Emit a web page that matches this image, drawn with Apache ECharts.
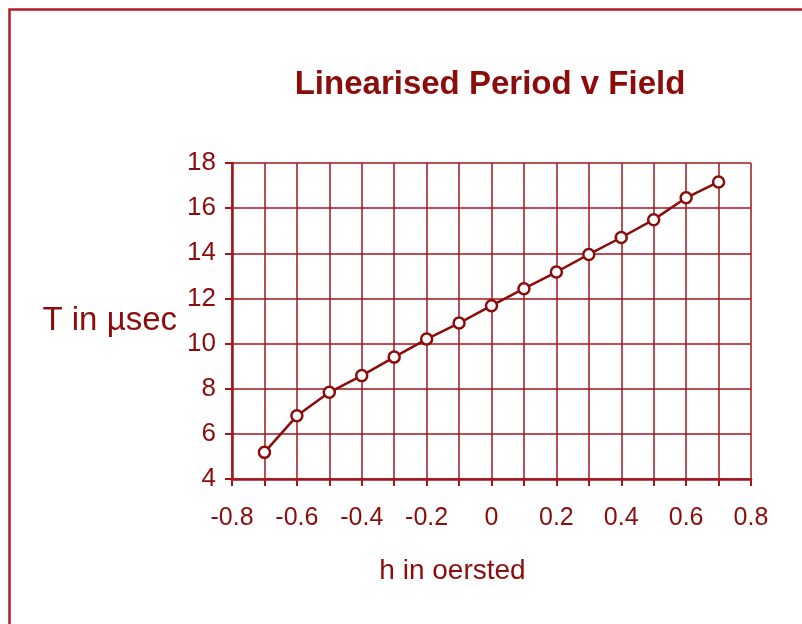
<!DOCTYPE html>
<html>
<head>
<meta charset="utf-8">
<script src="https://cdn.jsdelivr.net/npm/echarts@6/dist/echarts.min.js"></script>
<style>
  html, body { margin: 0; padding: 0; background: #fff; }
  #chart { width: 802px; height: 624px; }
</style>
</head>
<body>
<div id="chart"></div>
<script>
// field h (oersted) and linearised period T (usec)
const fieldValues = [-0.7, -0.6, -0.5, -0.4, -0.3, -0.2, -0.1, 0, 0.1, 0.2, 0.3, 0.4, 0.5, 0.6, 0.7];
const periodValues = [5.18, 6.8, 7.84, 8.58, 9.4, 10.2, 10.91, 11.68, 12.43, 13.17, 13.95, 14.7, 15.49, 16.46, 17.16];

const lineColor = '#a3141c';
const textColor = '#8c0c0c';
const font = 'Arial, "Liberation Sans", sans-serif';

const chart = echarts.init(document.getElementById('chart'));

const option = {
    backgroundColor: '#ffffff',
    animation: false,
    title: {
        text: 'Linearised Period v Field',
        left: 485,
        top: 63,
        textAlign: 'center',
        textStyle: {
            fontFamily: font,
            fontWeight: 'bold',
            fontSize: 33,
            color: textColor
        }
    },
    graphic: [{
        type: 'rect',
        shape: { x: 9.5, y: 9.5, width: 820, height: 640 },
        style: { fill: 'none', stroke: '#b01c26', lineWidth: 2.5 },
        silent: true
    }],
    grid: {
        left: 232,
        right: 51,
        top: 163,
        bottom: 145
    },
    xAxis: {
        type: 'value',
        min: -0.8,
        max: 0.8,
        interval: 0.1,
        name: 'h in oersted',
        nameLocation: 'middle',
        nameGap: 78,
        nameTextStyle: {
            fontFamily: font,
            fontSize: 28,
            color: textColor,
            padding: [0, 78, 0, 0]
        },
        axisLine: { onZero: false, lineStyle: { color: lineColor, width: 2.5 } },
        axisTick: { length: 7, lineStyle: { color: lineColor, width: 2 } },
        axisLabel: {
            margin: 27,
            fontFamily: font,
            fontSize: 25,
            color: textColor,
            formatter: function (v) {
                const tenth = Math.round(v * 10);
                if (tenth % 2 !== 0) return '';
                return String(tenth / 10);
            }
        },
        splitLine: { show: true, lineStyle: { color: lineColor, width: 1.5 } }
    },
    yAxis: {
        type: 'value',
        min: 4,
        max: 18,
        interval: 2,
        name: 'T in µsec',
        nameLocation: 'middle',
        nameRotate: 0,
        nameGap: 55,
        nameTextStyle: {
            fontFamily: font,
            fontSize: 33,
            color: textColor
        },
        axisLine: { show: true, onZero: false, lineStyle: { color: lineColor, width: 2.5 } },
        axisTick: { show: true, length: 7, lineStyle: { color: lineColor, width: 2 } },
        axisLabel: {
            margin: 16,
            fontFamily: font,
            fontSize: 26,
            color: textColor
        },
        splitLine: { show: true, lineStyle: { color: lineColor, width: 1.5 } }
    },
    series: [{
        type: 'line',
        data: fieldValues.map(function (h, i) { return [h, periodValues[i]]; }),
        symbol: 'circle',
        symbolSize: 11,
        lineStyle: { color: '#8c0c0c', width: 2.5 },
        itemStyle: { color: '#ffffff', borderColor: '#8c0c0c', borderWidth: 2.5 }
    }]
};

chart.setOption(option);
</script>
</body>
</html>
